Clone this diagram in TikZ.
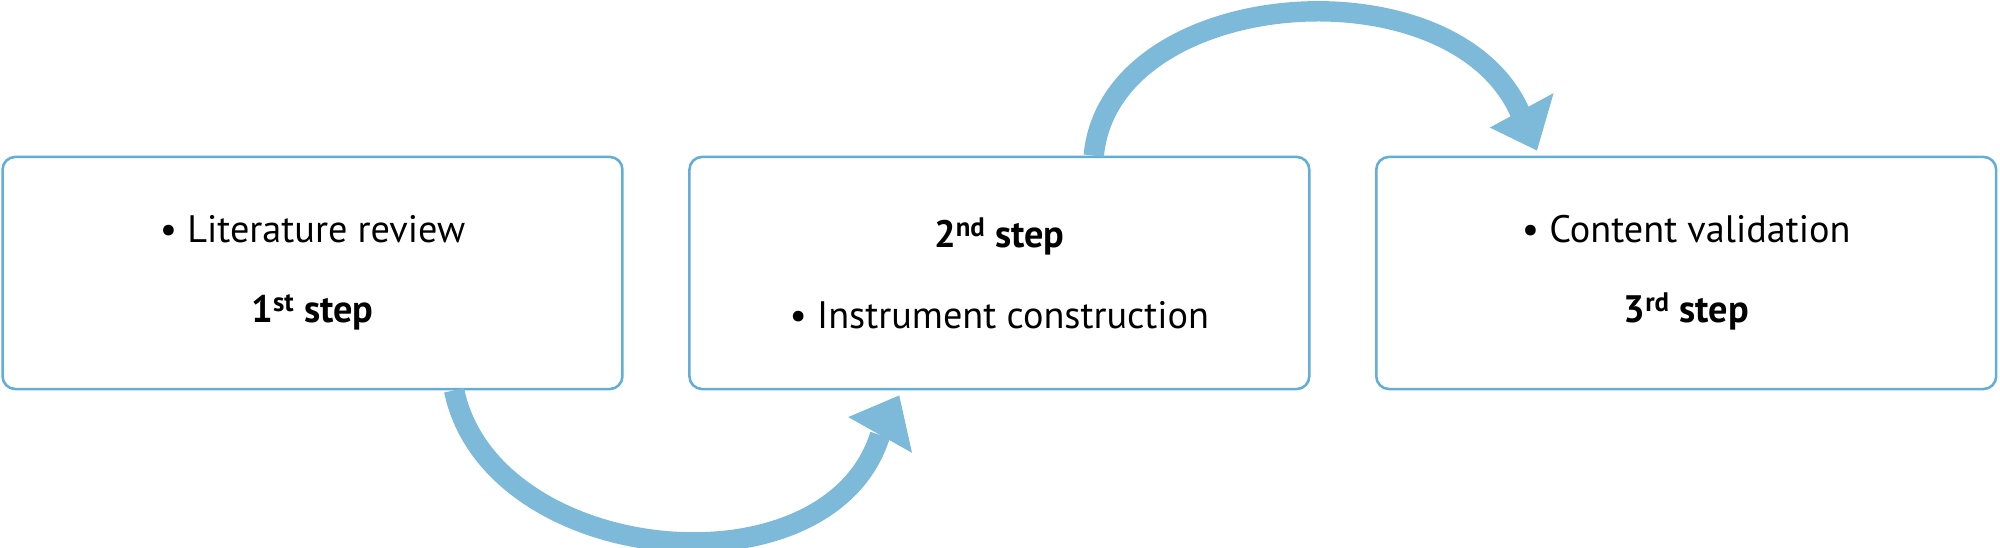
\documentclass[tikz,border=0pt]{standalone}
\usepackage{fontspec}
\setmainfont{PT Sans}
\definecolor{boxblue}{HTML}{62AED6}
\definecolor{arrowblue}{HTML}{7DBAD9}
\begin{document}
\begin{tikzpicture}[x=1pt,y=-1pt,
    stepbox/.style={draw=boxblue,line width=2,rounded corners=10,minimum width=486,minimum height=182,align=center,font=\fontsize{30}{63}\selectfont},
    flow/.style={draw=arrowblue,line width=16},
    flowhead/.style={fill=arrowblue}]
    \useasboundingbox (0,0) rectangle (1568,429);

% three steps
    \node[stepbox] (lit) at (245,214) {\textbullet\ Literature review\\ \textbf{1\textsuperscript{st} step}};
    \node[stepbox] (inst) at (783.5,214) {\textbf{2\textsuperscript{nd} step}\\ \textbullet\ Instrument construction};
    \node[stepbox] (cont) at (1322,214) {\textbullet\ Content validation\\ \textbf{3\textsuperscript{rd} step}};

% arrows between the steps
    \coordinate (a1) at (690,341);
    \coordinate (a2) at (1192,89);
    \draw[flow] ([xshift=-133]lit.south east) .. controls (385,445) and (650,470) .. (a1);
    \fill[flowhead] (665,327) -- (705,310) -- (715,355) -- cycle;
    \draw[flow] ([xshift=74]inst.north) .. controls (870,-12) and (1140,-32) .. (a2);
    \fill[flowhead] (1168,100) -- (1218,73) -- (1205,118) -- cycle;
\end{tikzpicture}
\end{document}
